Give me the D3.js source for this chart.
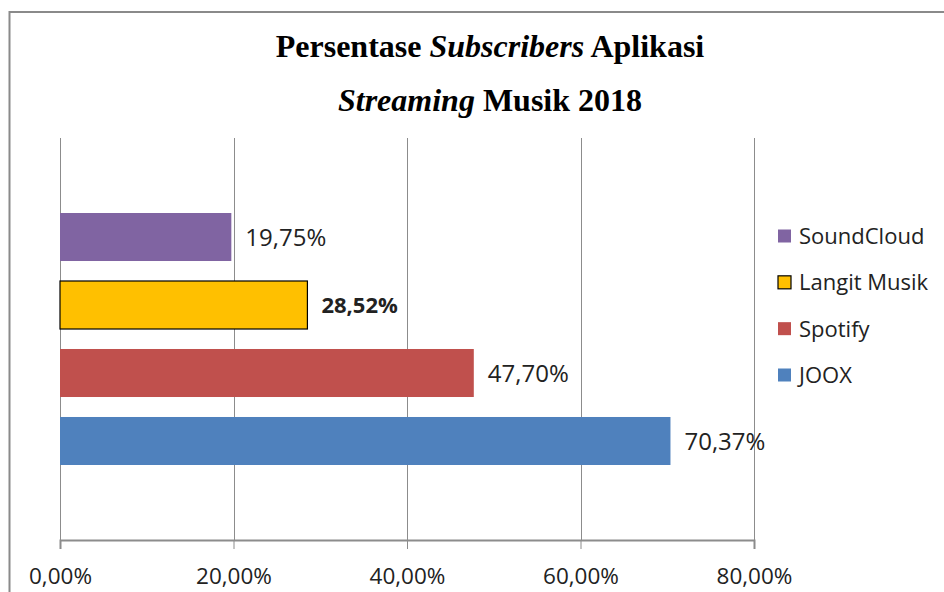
<!DOCTYPE html>
<html><head><meta charset="utf-8">
<script src="https://cdn.jsdelivr.net/npm/d3@7"></script>
<style>body{margin:0;background:#fff}svg{display:block}</style>
</head><body>
<svg id="c" width="944" height="592"></svg>
<script>
const series = ["SoundCloud", "Langit Musik", "Spotify", "JOOX"];
const values = [19.75, 28.52, 47.70, 70.37];
const colors = ["#8064A2", "#FFC000", "#C0504D", "#4F81BD"];
const ticks = [0, 20, 40, 60, 80];
const legendOrder = ["SoundCloud", "Langit Musik", "Spotify", "JOOX"];

const loc = d3.formatLocale({decimal: ",", thousands: ".", grouping: [3], currency: ["", ""]});
const fmt = v => loc.format(".2f")(v) + "%";
const sans = "'Open Sans','Liberation Sans',sans-serif";

const svg = d3.select("#c");
// outer border
svg.append("path").attr("d", "M9.5,592 L9.5,12 L944,12").attr("fill", "none").attr("stroke", "#8a8a8a").attr("stroke-width", 2);

// title
const title = svg.append("text").attr("text-anchor", "middle").attr("font-family", "'Liberation Serif','Times New Roman',serif").attr("font-weight", "bold").attr("font-size", 32).attr("fill", "#000");
const l1 = title.append("tspan").attr("x", 490).attr("y", 57);
l1.append("tspan").text("Persentase ");
l1.append("tspan").attr("font-style", "italic").text("Subscribers");
l1.append("tspan").text(" Aplikasi");
const l2 = title.append("tspan").attr("x", 490).attr("y", 111);
l2.append("tspan").attr("font-style", "italic").text("Streaming");
l2.append("tspan").text(" Musik 2018");

const x = d3.scaleLinear().domain([0, 80]).range([60, 754]);
const y = d3.scaleBand().domain(series).range([213, 465]).paddingInner(0.294).paddingOuter(0);
const plotTop = 138, plotBottom = 540;

// gridlines
svg.append("g").selectAll("line").data(ticks).join("line")
  .attr("x1", d => Math.round(x(d)) + 0.5).attr("x2", d => Math.round(x(d)) + 0.5).attr("y1", plotTop).attr("y2", plotBottom)
  .attr("stroke", "#8c8c8c").attr("stroke-width", 1);

// axis
const axis = d3.axisBottom(x).tickValues(ticks).tickSize(9).tickPadding(19).tickFormat(fmt);
const ag = svg.append("g").attr("transform", `translate(0,${plotBottom})`).call(axis);
ag.select(".domain").attr("stroke", "#8c8c8c").attr("stroke-width", 2);
ag.selectAll(".tick line").attr("stroke", "#8c8c8c");
ag.selectAll(".tick text").attr("font-family", sans).attr("font-size", 22.5).attr("fill", "#222");

// bars
svg.append("g").selectAll("rect").data(series).join("rect")
  .attr("x", x(0)).attr("y", d => y(d)).attr("width", (d, i) => x(values[i]) - x(0)).attr("height", y.bandwidth())
  .attr("fill", (d, i) => colors[i])
  .attr("stroke", (d, i) => d === "Langit Musik" ? "#000" : "none").attr("stroke-width", 1.2);

// labels
svg.append("g").selectAll("text").data(series).join("text")
  .attr("x", (d, i) => x(values[i]) + 14).attr("y", d => y(d) + y.bandwidth() / 2).attr("dy", "0.36em")
  .attr("font-family", sans)
  .attr("font-size", d => d === "Langit Musik" ? 22 : 24)
  .attr("font-weight", d => d === "Langit Musik" ? "bold" : "normal")
  .attr("fill", "#222").text((d, i) => fmt(values[i]));

// legend
const legY = d3.scalePoint().domain(legendOrder).range([236, 375]);
const lg = svg.append("g").selectAll("g").data(legendOrder).join("g").attr("transform", d => `translate(778,${legY(d)})`);
lg.append("rect").attr("x", 0).attr("y", -6.5).attr("width", 13).attr("height", 13)
  .attr("fill", d => colors[series.indexOf(d)])
  .attr("stroke", d => d === "Langit Musik" ? "#000" : "none").attr("stroke-width", 1.2);
lg.append("text").attr("x", 21).attr("dy", "0.36em").attr("font-family", sans).attr("font-size", 22).attr("fill", "#222").text(d => d);
</script>
</body></html>
